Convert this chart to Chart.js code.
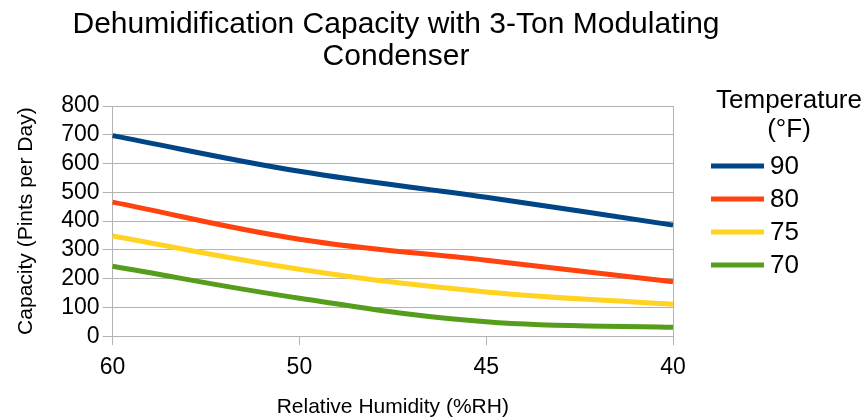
<!DOCTYPE html>
<html>
<head>
<meta charset="utf-8">
<script src="https://cdn.jsdelivr.net/npm/chart.js@4/dist/chart.umd.min.js"></script>
<style>
  html, body { margin: 0; padding: 0; background: #fff; }
  #wrap { width: 863px; height: 419px; }
</style>
</head>
<body>
<div id="wrap"><canvas id="grafico"></canvas></div>
<script>
// dados
const humidade = ["60", "50", "45", "40"];
const temperaturas = ["90", "80", "75", "70"];
const cap90 = [697, 573, 483, 386];
const cap80 = [466, 337, 264, 189];
const cap75 = [348, 233, 154, 111];
const cap70 = [243, 132, 50, 31];
const ticksY = [0, 100, 200, 300, 400, 500, 600, 700, 800];
const titulo = ["Dehumidification Capacity with 3-Ton Modulating", "Condenser"];

const cores = ["#004586", "#ff420e", "#ffd320", "#579d1c"];
const series = [cap90, cap80, cap75, cap70];
const fonte = "'Liberation Sans', Arial, sans-serif";
const cinza = "#b3b3b3";

// título e legenda desenhados à mão
const textosPlugin = {
  id: "textosExtra",
  afterDraw(chart) {
    const ctx = chart.ctx;
    ctx.save();
    ctx.fillStyle = "#000";
    ctx.textBaseline = "middle";
    ctx.textAlign = "center";
    ctx.font = "30px " + fonte;
    ctx.fillText(titulo[0], 396, 25);
    ctx.fillText(titulo[1], 396, 57);

    ctx.font = "26px " + fonte;
    ctx.fillText("Temperature", 789, 101);
    ctx.fillText("(°F)", 789, 130);
    ctx.textAlign = "left";
    chart.data.datasets.forEach((ds, i) => {
      const y = 166 + i * 33;
      ctx.strokeStyle = ds.borderColor;
      ctx.lineWidth = 5;
      ctx.beginPath();
      ctx.moveTo(711, y);
      ctx.lineTo(764, y);
      ctx.stroke();
      ctx.fillText(ds.label, 770, y + 1);
    });
    ctx.restore();
  }
};

const Grafic = document.getElementById("grafico").getContext("2d");

new Chart(Grafic, {
  type: "line",
  data: {
    labels: humidade,
    datasets: series.map((valores, i) => ({
      label: temperaturas[i],
      data: valores,
      borderColor: cores[i],
      backgroundColor: cores[i],
      borderWidth: 5,
      pointRadius: 0,
      tension: 0.4,
      fill: false
    }))
  },
  options: {
    responsive: true,
    maintainAspectRatio: false,
    animation: false,
    layout: { padding: { left: 14, right: 190, top: 106, bottom: -1 } },
    plugins: {
      legend: { display: false },
      tooltip: { enabled: false },
      title: { display: false }
    },
    scales: {
      x: {
        offset: false,
        title: {
          display: true,
          text: "Relative Humidity (%RH)",
          color: "#000",
          font: { family: fonte, size: 21 },
          padding: { top: 4, bottom: 0 }
        },
        ticks: { color: "#000", font: { family: fonte, size: 23 }, padding: 9, maxRotation: 0, autoSkip: false },
        grid: {
          color: (c) => (c.index === humidade.length - 1 ? cinza : "transparent"),
          tickColor: cinza,
          tickLength: 9,
          lineWidth: 1
        },
        border: { color: cinza }
      },
      y: {
        min: 0,
        max: 800,
        afterBuildTicks: (axis) => { axis.ticks = ticksY.map(v => ({ value: v })); },
        title: {
          display: true,
          text: "Capacity (Pints per Day)",
          color: "#000",
          font: { family: fonte, size: 21 },
          padding: { top: 0, bottom: 19 }
        },
        ticks: { color: "#000", font: { family: fonte, size: 23 }, padding: 3, autoSkip: false },
        grid: { color: cinza, tickColor: cinza, tickLength: 10 },
        border: { color: cinza }
      }
    }
  },
  plugins: [textosPlugin]
});
</script>
</body>
</html>
